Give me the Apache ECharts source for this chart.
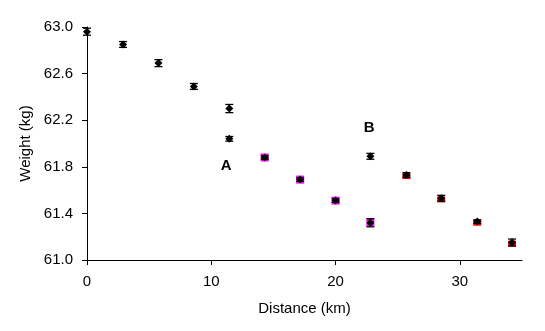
<!DOCTYPE html>
<html>
<head>
<meta charset="utf-8">
<script src="https://cdn.jsdelivr.net/npm/echarts@6/dist/echarts.min.js"></script>
<style>
  html, body { margin: 0; padding: 0; background: #fff; }
  #chart { width: 545px; height: 331px; }
</style>
</head>
<body>
<div id="chart"></div>
<script>
// Weight measured along the route, mean ± error
const distance = [0, 2.9, 5.75, 8.6, 11.45, 11.45, 14.3, 17.15, 20.0, 22.8, 22.8, 25.7, 28.5, 31.4, 34.2];
const weight   = [62.96, 62.85, 62.69, 62.49, 62.30, 62.04, 61.88, 61.69, 61.51, 61.89, 61.32, 61.73, 61.53, 61.33, 61.15];
const weightErr = [0.03, 0.025, 0.03, 0.025, 0.035, 0.02, 0.015, 0.015, 0.015, 0.025, 0.035, 0.02, 0.025, 0.015, 0.03];

// Overlapping series A (magenta) and B (red)
const distA = [14.3, 17.15, 20.0, 22.8];
const weightA = [61.88, 61.69, 61.51, 61.325];
const distB = [25.7, 28.5, 31.4, 34.2];
const weightB = [61.72, 61.52, 61.32, 61.14];

const xTicks = [0, 10, 20, 30];

const labels = [
  { name: 'A', x: 11.2, y: 61.81 },
  { name: 'B', x: 22.7, y: 62.13 }
];

const mainData = distance.map((d, i) => [d, weight[i], weightErr[i]]);

const chart = echarts.init(document.getElementById('chart'), null, { renderer: 'canvas' });
const font = '"Liberation Sans", Arial, sans-serif';

chart.setOption({
  animation: false,
  backgroundColor: '#ffffff',
  grid: { left: 87, right: 23, top: 27, bottom: 71, containLabel: false },
  xAxis: {
    type: 'value', min: 0, max: 35, interval: 10,
    name: 'Distance (km)', nameLocation: 'middle', nameGap: 41,
    nameTextStyle: { fontFamily: font, fontSize: 15, color: '#000' },
    axisLine: { show: true, onZero: false, lineStyle: { color: '#000', width: 1 } },
    axisTick: { show: true, inside: false, length: 5, customValues: xTicks, lineStyle: { color: '#000' } },
    axisLabel: { customValues: xTicks, fontFamily: font, fontSize: 15, color: '#000', margin: 14 },
    splitLine: { show: false }
  },
  yAxis: {
    type: 'value', min: 61, max: 63, interval: 0.4,
    name: 'Weight (kg)', nameLocation: 'middle', nameGap: 51, nameRotate: 90,
    nameTextStyle: { fontFamily: font, fontSize: 15, color: '#000' },
    axisLine: { show: true, onZero: false, lineStyle: { color: '#000', width: 1 } },
    axisTick: { show: true, inside: false, length: 5, lineStyle: { color: '#000' } },
    axisLabel: { fontFamily: font, fontSize: 15, color: '#000', margin: 14,
      formatter: v => v.toFixed(1) },
    splitLine: { show: false }
  },
  series: [
    {
      type: 'scatter', data: distA.map((d, i) => [d, weightA[i]]),
      symbol: 'rect', symbolSize: 8, itemStyle: { color: '#ff00ff', opacity: 1 }, z: 2
    },
    {
      type: 'scatter', data: distB.map((d, i) => [d, weightB[i]]),
      symbol: 'rect', symbolSize: [8, 6], itemStyle: { color: '#ff0000', opacity: 1 }, z: 2
    },
    {
      type: 'custom', z: 3,
      data: mainData,
      encode: { x: 0, y: 1 },
      renderItem: function (params, api) {
        const x = api.value(0), y = api.value(1), e = api.value(2);
        const top = api.coord([x, y + e]);
        const bot = api.coord([x, y - e]);
        const hw = 4;
        const style = { stroke: '#000', lineWidth: 1.3 };
        return {
          type: 'group',
          children: [
            { type: 'line', shape: { x1: top[0], y1: top[1], x2: bot[0], y2: bot[1] }, style },
            { type: 'line', shape: { x1: top[0] - hw, y1: top[1], x2: top[0] + hw, y2: top[1] }, style },
            { type: 'line', shape: { x1: bot[0] - hw, y1: bot[1], x2: bot[0] + hw, y2: bot[1] }, style }
          ]
        };
      }
    },
    {
      type: 'scatter', data: mainData.map(p => [p[0], p[1]]),
      symbol: 'diamond', symbolSize: 8, itemStyle: { color: '#000', opacity: 1 }, z: 4
    },
    {
      type: 'scatter', data: labels.map(l => [l.x, l.y, l.name]),
      symbolSize: 0, silent: true, z: 5,
      itemStyle: { opacity: 1 },
      label: {
        show: true, position: 'inside', formatter: p => p.data[2],
        fontFamily: font, fontSize: 15, fontWeight: 'bold', color: '#000'
      }
    }
  ]
});
</script>
</body>
</html>
